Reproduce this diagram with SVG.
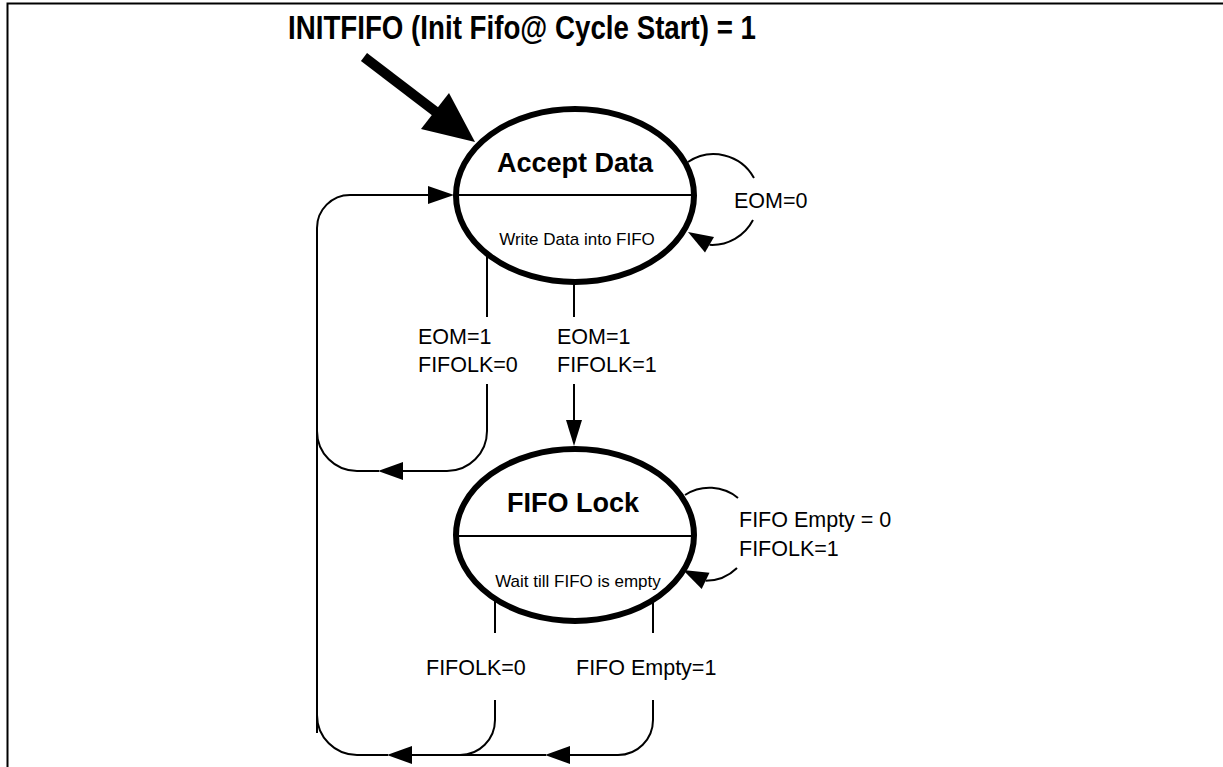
<svg xmlns="http://www.w3.org/2000/svg" width="1223" height="767" viewBox="0 0 1223 767">
<defs>
<style>
.frame{fill:none;stroke:#000;stroke-width:2}
.conn{fill:none;stroke:#000;stroke-width:2}
.head{fill:#000;stroke:none}
.state{fill:#fff;stroke:#000;stroke-width:6}
.div{stroke:#000;stroke-width:2}
text{font-family:"Liberation Sans",Arial,sans-serif;fill:#000}
.title{font-size:34px;font-weight:bold}
.name{font-size:27px;font-weight:bold;text-anchor:middle}
.act{font-size:17px;text-anchor:middle}
.lbl{font-size:21.5px}
</style>
</defs>
<rect width="1223" height="767" fill="#fff"/>
<path class="frame" d="M7.5,767 L7.5,3.5 L1223,3.5"/>
<text class="title" x="288" y="39" textLength="468" lengthAdjust="spacingAndGlyphs">INITFIFO (Init Fifo@ Cycle Start) = 1</text>

<g id="connectors">
  <!-- initial -->
  <line x1="364" y1="57" x2="436" y2="112" stroke="#000" stroke-width="10"/>
  <polygon class="head" points="475,142 421,129 449,93"/>
  <!-- Accept Data self loop -->
  <path class="conn" d="M688,162 A46,46 0 0 1 754,178"/>
  <path class="conn" d="M753,220 A46,46 0 0 1 709.5,244.8"/>
  <polygon class="head" points="688,232 714,237 705,252.5"/>
  <!-- left loop back into Accept Data -->
  <path class="conn" d="M317,733 L317,228 A33,33 0 0 1 350,195 L429,195"/>
  <polygon class="head" points="454,195 428,186 428,204"/>
  <!-- EOM=1 FIFOLK=0 -->
  <path class="conn" d="M487,256 L487,317 M487,384 L487,431 A40,40 0 0 1 447,471 L402,471"/>
  <polygon class="head" points="378,471 403,462 403,480"/>
  <path class="conn" d="M379,471 L357,471 A40,40 0 0 1 317,431"/>
  <!-- EOM=1 FIFOLK=1 -->
  <path class="conn" d="M574,284 L574,317 M574,384 L574,421"/>
  <polygon class="head" points="574,446 566,420 582,420"/>
  <!-- FIFO Lock self loop -->
  <path class="conn" d="M685,495 A45,45 0 0 1 738,498"/>
  <path class="conn" d="M737,568 A45,45 0 0 1 705.6,580.8"/>
  <polygon class="head" points="683,570 709.5,572.7 701.7,588.9"/>
  <!-- FIFOLK=0 from FIFO Lock -->
  <path class="conn" d="M495,600 L495,633 M495,700 L495,720 A35,35 0 0 1 460,755 L411,755"/>
  <polygon class="head" points="387,755 412,746 412,764"/>
  <path class="conn" d="M388,755 L357,755 A40,40 0 0 1 317,715"/>
  <!-- FIFO Empty=1 -->
  <path class="conn" d="M653,600 L653,633 M653,700 L653,720 A35,35 0 0 1 618,755 L569,755"/>
  <polygon class="head" points="545,755 570,746 570,764"/>
  <path class="conn" d="M546,755 L460,755"/>
  <!-- labels -->
  <text class="lbl" x="734" y="208">EOM=0</text>
  <text class="lbl" x="418" y="344">EOM=1</text>
  <text class="lbl" x="418" y="372">FIFOLK=0</text>
  <text class="lbl" x="557" y="344">EOM=1</text>
  <text class="lbl" x="557" y="372">FIFOLK=1</text>
  <text class="lbl" x="739" y="527">FIFO Empty = 0</text>
  <text class="lbl" x="739" y="556">FIFOLK=1</text>
  <text class="lbl" x="426" y="675">FIFOLK=0</text>
  <text class="lbl" x="576" y="675">FIFO Empty=1</text>
</g>

<g id="accept-data">
  <ellipse class="state" cx="575" cy="195.5" rx="119" ry="86.5"/>
  <line class="div" x1="457" y1="195" x2="693" y2="195"/>
  <text class="name" x="575" y="172">Accept Data</text>
  <text class="act" x="577" y="245">Write Data into FIFO</text>
</g>

<g id="fifo-lock">
  <ellipse class="state" cx="575" cy="535" rx="119" ry="86"/>
  <line class="div" x1="457" y1="536" x2="693" y2="536"/>
  <text class="name" x="573" y="512">FIFO Lock</text>
  <text class="act" x="578" y="587">Wait till FIFO is empty</text>
</g>
</svg>
